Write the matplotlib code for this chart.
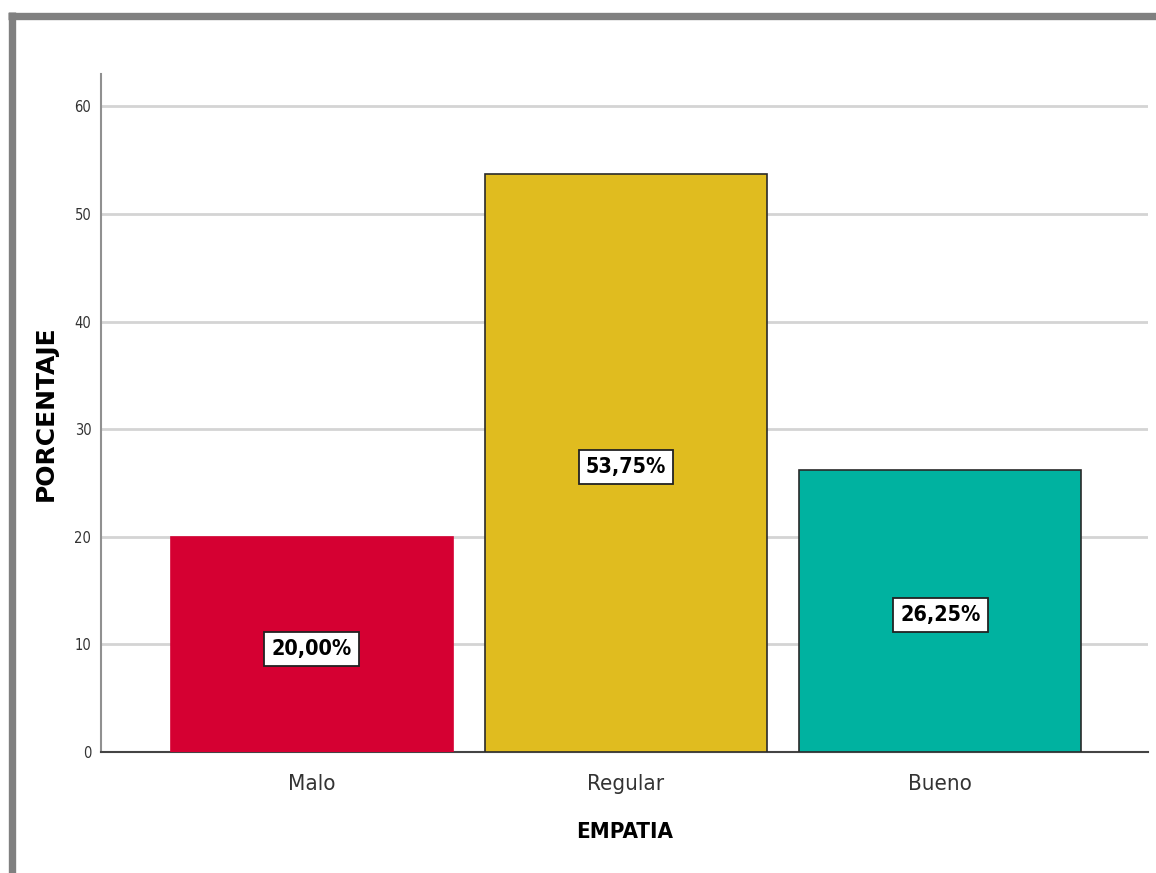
import matplotlib
matplotlib.use("Agg")
from matplotlib import pyplot as plt
from matplotlib.lines import Line2D

# data
categorias = ["Malo", "Regular", "Bueno"]
porcentajes = [20.00, 53.75, 26.25]
colores = ["#D50032", "#E0BC1F", "#00B2A0"]
bordes = ["#D50032", "#2a2a2a", "#2a2a2a"]
yticks = [0, 10, 20, 30, 40, 50, 60]

fig = plt.figure(figsize=(11.56, 8.73), dpi=100)
ax = fig.add_axes([0.0874, 0.1386, 0.9056, 0.7764])

x = list(range(len(categorias)))
ax.bar(x, porcentajes, width=0.897, color=colores, edgecolor=bordes, linewidth=1.2, zorder=3)

#etiquetas en las barras
for xi, v in zip(x, porcentajes):
    txt = f"{v:.2f}".replace(".", ",") + "%"
    ax.text(xi, v / 2 - 0.4, txt, ha="center", va="center", fontsize=15.5, fontweight="bold",
            family="DejaVu Sans", fontstretch="condensed", color="black", zorder=5,
            bbox=dict(boxstyle="square,pad=0.33", facecolor="white", edgecolor="#222222", linewidth=1.3))

ax.set_xlim(-0.67, 2.66)
ax.set_ylim(0, 63)
ax.set_yticks(yticks)
ax.set_yticklabels([str(t) for t in yticks], fontsize=10.5, family="DejaVu Sans",
                   fontstretch="condensed", color="#333333")
ax.set_xticks(x)
ax.set_xticklabels(categorias, fontsize=16, family="DejaVu Sans", fontstretch="condensed", color="#333333")
ax.tick_params(axis="x", length=0, pad=16)
ax.tick_params(axis="y", length=0, pad=7)

ax.yaxis.grid(True, color="#d4d4d4", linewidth=2, zorder=0)
ax.set_axisbelow(True)
for s in ["top", "right"]:
    ax.spines[s].set_visible(False)
ax.spines["left"].set_color("#909090")
ax.spines["left"].set_linewidth(1.5)
ax.spines["bottom"].set_color("#444444")
ax.spines["bottom"].set_linewidth(1.5)

ax.set_xlabel("EMPATIA", fontsize=16, fontweight="bold", family="DejaVu Sans",
              fontstretch="condensed", labelpad=20)
ax.set_ylabel("PORCENTAJE", fontsize=18, fontweight="bold", family="DejaVu Sans", labelpad=12)

# marco gris
fig.add_artist(Line2D([8 / 1156, 1.0], [1 - 15.5 / 873, 1 - 15.5 / 873], color="#808080",
                      linewidth=5.3, solid_capstyle="butt"))
fig.add_artist(Line2D([11.5 / 1156, 11.5 / 1156], [0, 1 - 12 / 873], color="#808080",
                      linewidth=5.3, solid_capstyle="butt"))

plt.savefig("out.png", dpi=100)
